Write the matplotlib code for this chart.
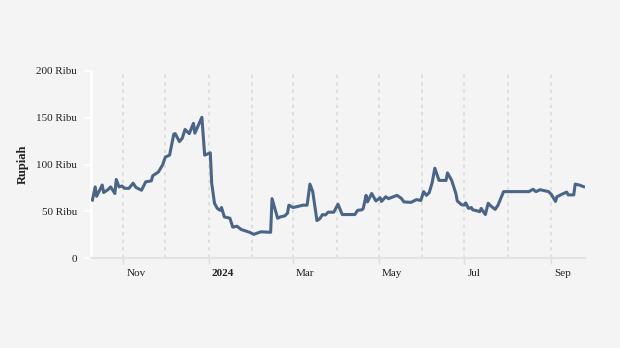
import matplotlib
matplotlib.use("Agg")
import matplotlib.pyplot as plt
import matplotlib.dates as mdates
import matplotlib.transforms as mtransforms
import pandas as pd

# harga harian (ribu rupiah)
dates = [
    "2023-10-10", "2023-10-12", "2023-10-13", "2023-10-17", "2023-10-18",
    "2023-10-21", "2023-10-23", "2023-10-26", "2023-10-27", "2023-10-29",
    "2023-10-31", "2023-11-02", "2023-11-05", "2023-11-08", "2023-11-10",
    "2023-11-14", "2023-11-17", "2023-11-21", "2023-11-22", "2023-11-26",
    "2023-11-29", "2023-12-01", "2023-12-04", "2023-12-07", "2023-12-08",
    "2023-12-11", "2023-12-13", "2023-12-15", "2023-12-18", "2023-12-21",
    "2023-12-22", "2023-12-27", "2023-12-29", "2024-01-02", "2024-01-03",
    "2024-01-05", "2024-01-07", "2024-01-09", "2024-01-10", "2024-01-12",
    "2024-01-16", "2024-01-18", "2024-01-21", "2024-01-24", "2024-01-27",
    "2024-01-30", "2024-02-02", "2024-02-07", "2024-02-14", "2024-02-15",
    "2024-02-19", "2024-02-21", "2024-02-24", "2024-02-26", "2024-02-27",
    "2024-03-01", "2024-03-04", "2024-03-08", "2024-03-11", "2024-03-13",
    "2024-03-15", "2024-03-18", "2024-03-20", "2024-03-22", "2024-03-24",
    "2024-03-26", "2024-03-30", "2024-04-02", "2024-04-05", "2024-04-14",
    "2024-04-16", "2024-04-19", "2024-04-20", "2024-04-22", "2024-04-23",
    "2024-04-26", "2024-04-29", "2024-05-02", "2024-05-03", "2024-05-06",
    "2024-05-08", "2024-05-14", "2024-05-17", "2024-05-19", "2024-05-24",
    "2024-05-28", "2024-05-31", "2024-06-02", "2024-06-04", "2024-06-06",
    "2024-06-08", "2024-06-10", "2024-06-13", "2024-06-18", "2024-06-19",
    "2024-06-22", "2024-06-25", "2024-06-26", "2024-06-29", "2024-07-01",
    "2024-07-02", "2024-07-04", "2024-07-06", "2024-07-07", "2024-07-10",
    "2024-07-12", "2024-07-13", "2024-07-16", "2024-07-18", "2024-07-20",
    "2024-07-23", "2024-07-25", "2024-07-29", "2024-08-16", "2024-08-19",
    "2024-08-21", "2024-08-24", "2024-08-30", "2024-09-01", "2024-09-04",
    "2024-09-05", "2024-09-09", "2024-09-12", "2024-09-13", "2024-09-17",
    "2024-09-18", "2024-09-21", "2024-09-24",
]
harga = [
    62, 76, 66, 78, 70,
    73, 76, 69, 84, 76,
    77, 74.5, 74.5, 80, 75.5,
    72.5, 81.5, 82.5, 88, 92,
    99.5, 108, 110, 132.5, 133,
    124.5, 128, 137.5, 133, 144,
    133.5, 150.5, 110, 112.5, 80,
    58.5, 53, 51, 54, 44,
    42.5, 33, 34, 30.5, 29,
    27.5, 25.3, 28, 27.5, 63.5,
    42.5, 44, 45, 47.8, 56.5,
    54, 55, 56.5, 56.5, 79,
    71, 40, 42, 46.5, 46,
    49, 49, 57.5, 46.5, 46.5,
    51, 51.5, 53, 67, 60,
    69, 61, 64.5, 60.5, 65.5,
    63.5, 67, 64, 60, 59.5,
    62.5, 61.5, 71, 67, 70,
    80, 96, 83, 83, 91,
    83, 69, 61, 57, 56.5,
    59, 53, 54, 51.5, 50.5,
    49.5, 53, 46.5, 58.5, 55.5,
    52, 56.5, 71, 71, 73.5,
    71, 73, 71, 68, 60.5,
    65.5, 68.5, 70.5, 67.5, 67.5,
    79, 78, 76.3,
]

tick_dates = ["2023-11-01", "2024-01-01", "2024-03-01", "2024-05-01",
              "2024-07-01", "2024-09-01"]
tick_labels = ["Nov", "2024", "Mar", "May", "Jul", "Sep"]
y_ticks = [0, 50, 100, 150, 200]
y_labels = ["0", "50 Ribu", "100 Ribu", "150 Ribu", "200 Ribu"]

bg = "#f4f4f4"
line_color = "#4a6587"
text_color = "#222222"

plt.rcParams["font.family"] = ["Liberation Serif", "DejaVu Serif"]

fig = plt.figure(figsize=(6.2, 3.48), dpi=100, facecolor=bg)
ax = fig.add_axes([91 / 620, 1 - 258 / 348, (585 - 91) / 620, (258 - 71) / 348])
ax.set_facecolor(bg)

x = pd.to_datetime(dates)
ax.plot(x, harga, color=line_color, linewidth=2.2, solid_joinstyle="round",
        zorder=3)

ax.set_xlim(pd.Timestamp("2023-10-09"), pd.Timestamp("2024-09-25"))
ax.set_ylim(0, 200)

# monthly dotted guides, labelled every second month
ax.xaxis.set_minor_locator(mdates.MonthLocator())
ax.xaxis.set_major_locator(mdates.MonthLocator(bymonth=[1, 3, 5, 7, 9, 11]))
ax.grid(axis="x", which="both", color="#dadada", linestyle=(0, (2, 2.5)),
        linewidth=1.2, zorder=1)
ax.grid(axis="y", visible=False)

ax.set_xticks(pd.to_datetime(tick_dates))
ax.set_xticklabels(tick_labels)
ax.tick_params(axis="x", which="major", length=4, width=1, color="#dddddd",
               labelsize=8, labelcolor=text_color, pad=4)
ax.tick_params(axis="x", which="minor", length=0)
offset = mtransforms.ScaledTranslation(3 / 100, 0, fig.dpi_scale_trans)
for lbl in ax.get_xticklabels():
    lbl.set_horizontalalignment("left")
    lbl.set_transform(lbl.get_transform() + offset)
    if lbl.get_text() == "2024":
        lbl.set_fontweight("bold")

ax.set_yticks(y_ticks)
ax.set_yticklabels(y_labels)
ax.tick_params(axis="y", length=5, width=1.2, color="white",
               labelsize=8, labelcolor=text_color, pad=5)

ax.set_ylabel("Rupiah", fontsize=9, fontweight="bold", color=text_color,
              labelpad=5)

for side in ("top", "right"):
    ax.spines[side].set_visible(False)
ax.spines["left"].set_color("white")
ax.spines["left"].set_linewidth(1.8)
ax.spines["bottom"].set_color("#e2e2e2")
ax.spines["bottom"].set_linewidth(1.5)

fig.savefig("out.png", dpi=100, facecolor=bg)
